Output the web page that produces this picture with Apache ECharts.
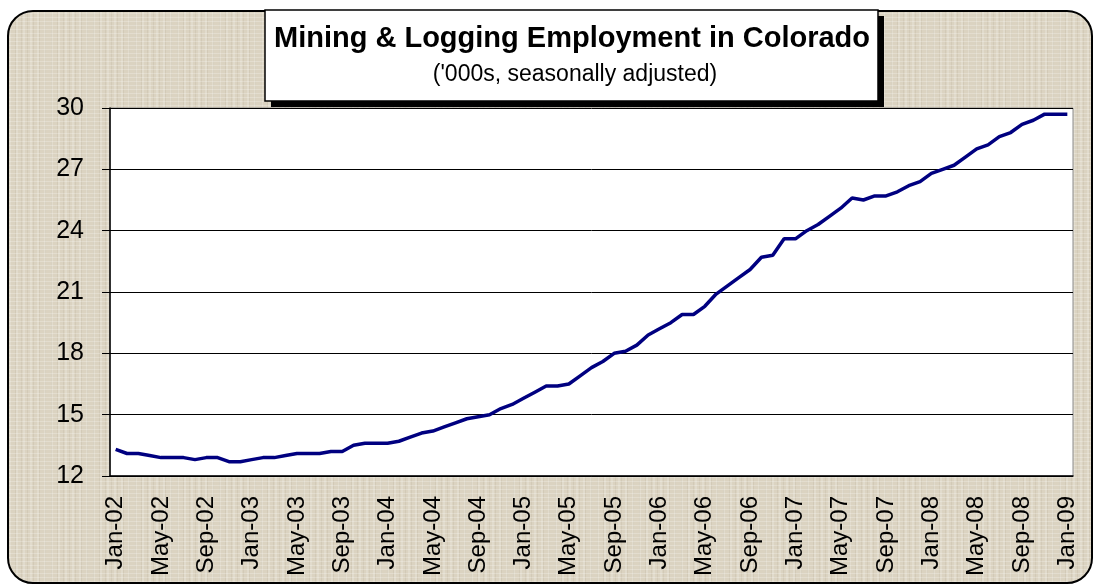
<!DOCTYPE html>
<html>
<head>
<meta charset="utf-8">
<script src="https://cdn.jsdelivr.net/npm/echarts@6/dist/echarts.min.js"></script>
<style>
  html, body { margin: 0; padding: 0; background: #fff; }
  #frame {
    position: absolute; left: 7px; top: 10px; width: 1086px; height: 574px;
    box-sizing: border-box; border: 2px solid #000; border-radius: 26px;
    background:
      repeating-linear-gradient(0deg, rgba(255,255,255,0.22) 0 1px, transparent 1px 4px),
      repeating-linear-gradient(90deg, rgba(110,95,65,0.08) 0 1px, transparent 1px 6px),
      repeating-linear-gradient(90deg, rgba(255,255,255,0.18) 0 2px, transparent 2px 7px),
      #dbd3c1;
  }
  #pic { position: absolute; left: 0; top: 0; width: 1093px; height: 585px; }
</style>
</head>
<body>
<div id="frame"></div>
<div id="pic"></div>
<script>
var monthNames = ['Jan','Feb','Mar','Apr','May','Jun','Jul','Aug','Sep','Oct','Nov','Dec'];
// Jan-02 .. Jan-09, monthly
var months = [];
for (var y = 2; y <= 9; y++) {
  for (var m = 0; m < 12; m++) {
    if (y === 9 && m > 0) break;
    months.push(monthNames[m] + '-0' + y);
  }
}
// thousands, seasonally adjusted
var employment = [
  13.3, 13.1, 13.1, 13.0, 12.9, 12.9, 12.9, 12.8, 12.9, 12.9, 12.7, 12.7,
  12.8, 12.9, 12.9, 13.0, 13.1, 13.1, 13.1, 13.2, 13.2, 13.5, 13.6, 13.6,
  13.6, 13.7, 13.9, 14.1, 14.2, 14.4, 14.6, 14.8, 14.9, 15.0, 15.3, 15.5,
  15.8, 16.1, 16.4, 16.4, 16.5, 16.9, 17.3, 17.6, 18.0, 18.1, 18.4, 18.9,
  19.2, 19.5, 19.9, 19.9, 20.3, 20.9, 21.3, 21.7, 22.1, 22.7, 22.8, 23.6,
  23.6, 24.0, 24.3, 24.7, 25.1, 25.6, 25.5, 25.7, 25.7, 25.9, 26.2, 26.4,
  26.8, 27.0, 27.2, 27.6, 28.0, 28.2, 28.6, 28.8, 29.2, 29.4, 29.7, 29.7,
  29.7
];
var yTicks = [12, 15, 18, 21, 24, 27, 30];
var titleText = 'Mining & Logging Employment in Colorado';
var subText = "('000s, seasonally adjusted)";

var chart = echarts.init(document.getElementById('pic'));
var option = {
  animation: false,
  backgroundColor: 'transparent',
  textStyle: { fontFamily: 'Liberation Sans' },
  grid: {
    left: 110, right: 20, top: 108, bottom: 109,
    show: true, backgroundColor: '#fff', borderColor: '#8a8a8a', borderWidth: 1
  },
  graphic: [
    { type: 'rect', shape: { x: 271, y: 16, width: 613, height: 91 }, style: { fill: '#000' }, z: 10 },
    { type: 'rect', shape: { x: 265, y: 10, width: 613, height: 91 }, style: { fill: '#fff', stroke: '#000', lineWidth: 1.5 }, z: 11 },
    { type: 'text', x: 572, y: 39, z: 12,
      style: { text: titleText, font: 'bold 29px "Liberation Sans"', fill: '#000', align: 'center', verticalAlign: 'middle' } },
    { type: 'text', x: 575, y: 75, z: 12,
      style: { text: subText, font: '23px "Liberation Sans"', fill: '#000', align: 'center', verticalAlign: 'middle' } }
  ],
  xAxis: {
    type: 'category',
    data: months,
    boundaryGap: true,
    axisLine: { lineStyle: { color: '#000', width: 1.5 } },
    axisTick: { interval: 3, length: 7, lineStyle: { color: '#000' } },
    axisLabel: { interval: 3, rotate: 90, margin: 20, fontSize: 24, color: '#000' },
    splitLine: { show: false }
  },
  yAxis: {
    type: 'value',
    min: yTicks[0], max: yTicks[yTicks.length - 1], interval: 3,
    axisLine: { show: true, lineStyle: { color: '#000', width: 1.5 } },
    axisTick: { show: true, length: 8, lineStyle: { color: '#000' } },
    axisLabel: { margin: 26, fontSize: 25, color: '#000' },
    splitLine: { lineStyle: { color: '#000', width: 1 } }
  },
  series: [{
    type: 'line',
    data: employment,
    symbol: 'none',
    smooth: false,
    lineStyle: { color: '#000080', width: 3.5 }
  }]
};
chart.setOption(option);
</script>
</body>
</html>
